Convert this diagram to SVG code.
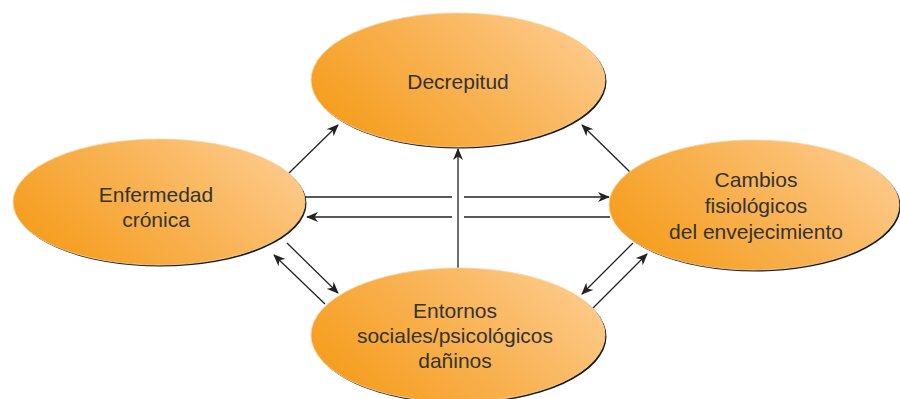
<svg xmlns="http://www.w3.org/2000/svg" width="900" height="399" viewBox="0 0 900 399">
<defs>
<linearGradient id="g" x1="0" y1="0.75" x2="1" y2="0.25">
<stop offset="0" stop-color="#F59C1A"/>
<stop offset="0.55" stop-color="#F9B457"/>
<stop offset="1" stop-color="#FDCB8C"/>
</linearGradient>
<marker id="ah" viewBox="0 0 12 10" refX="11" refY="5" markerWidth="12" markerHeight="10" markerUnits="userSpaceOnUse" orient="auto">
<path d="M0,0 L12,5 L0,10 L3.5,5 Z" fill="#222"/>
</marker>
<style>
.sh{fill:#1a1a1a}
.el{fill:url(#g);stroke:#FAD3A0;stroke-width:0.8}
.t{font-family:"Liberation Sans",Arial,sans-serif;font-size:21px;fill:#333;text-anchor:middle}
.c{fill:none;stroke:#222;stroke-width:1.3;marker-end:url(#ah)}
</style>
</defs>
<g id="connectors">
<path class="c" d="M289,173 L338,125"/>
<path class="c" d="M630,172 L582,125"/>
<path class="c" d="M458,268 L458,149"/>
<path class="c" d="M305,197 H452 M464,197 H609"/>
<path class="c" d="M610,217 H464 M452,217 H307"/>
<path class="c" d="M287,243 L338,293"/>
<path class="c" d="M325,304 L274,255"/>
<path class="c" d="M633,243 L582,294"/>
<path class="c" d="M593,308 L647,254"/>
</g>
<g id="decrepitud">
<ellipse class="sh" cx="459.5" cy="81.5" rx="147" ry="67"/>
<ellipse class="el" cx="458" cy="80" rx="147" ry="67"/>
<text class="t" x="458" y="89">Decrepitud</text>
</g>
<g id="enfermedad">
<ellipse class="sh" cx="160.5" cy="203.5" rx="146" ry="63"/>
<ellipse class="el" cx="159" cy="202" rx="146" ry="63"/>
<text class="t" x="156" y="202">Enfermedad</text>
<text class="t" x="156" y="227">crónica</text>
</g>
<g id="cambios">
<ellipse class="sh" cx="755.5" cy="206.5" rx="145" ry="65"/>
<ellipse class="el" cx="754" cy="205" rx="145" ry="65"/>
<text class="t" x="756" y="187">Cambios</text>
<text class="t" x="756" y="213">fisiológicos</text>
<text class="t" x="756" y="239">del envejecimiento</text>
</g>
<g id="entornos">
<ellipse class="sh" cx="459.5" cy="336.5" rx="147" ry="67"/>
<ellipse class="el" cx="458" cy="335" rx="147" ry="67"/>
<text class="t" x="455" y="318">Entornos</text>
<text class="t" x="455" y="343">sociales/psicológicos</text>
<text class="t" x="455" y="368">dañinos</text>
</g>
</svg>
